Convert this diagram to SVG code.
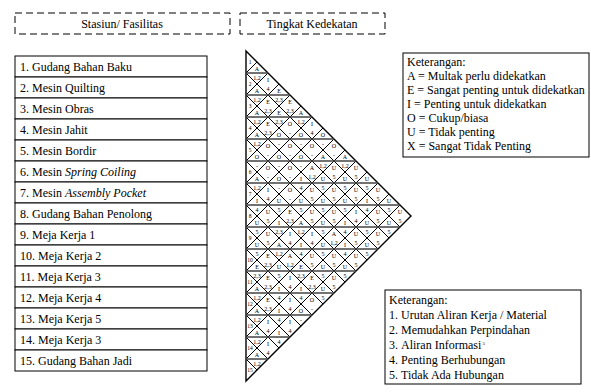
<svg xmlns="http://www.w3.org/2000/svg" width="591" height="392" viewBox="0 0 591 392">
<style>
  text { font-family: "Liberation Serif", "Times New Roman", serif; fill: #000; }
  .hdr rect { fill: none; stroke: #000; stroke-width: 1; stroke-dasharray: 7 4; }
  .hdr text { font-size: 12px; text-anchor: middle; }
  .row rect { fill: #fff; stroke: #000; stroke-width: 1; }
  .row text { font-size: 12px; }
  .leg rect { fill: #fff; stroke: #000; stroke-width: 1; }
  .leg text { font-size: 12px; }
  .grid { fill: none; stroke: #000; stroke-width: 1; }
  .mid { stroke: #444; stroke-width: 1.3; }
  .cell text { font-size: 6px; text-anchor: middle; }
  .lbl text { font-size: 5.5px; text-anchor: middle; }
</style>

<!-- column headers -->
<g id="hdr-stasiun" class="hdr"><rect x="15" y="13" width="215" height="21"/><text x="122" y="28">Stasiun/ Fasilitas</text></g>
<g id="hdr-kedekatan" class="hdr"><rect x="240" y="13" width="145" height="21"/><text x="312" y="28">Tingkat Kedekatan</text></g>

<!-- station list -->
<g id="st1" class="row"><rect x="15" y="56" width="192" height="21"/><text x="20" y="70.5">1. Gudang Bahan Baku</text></g>
<g id="st2" class="row"><rect x="15" y="77" width="192" height="21"/><text x="20" y="91.5">2. Mesin Quilting</text></g>
<g id="st3" class="row"><rect x="15" y="98" width="192" height="21"/><text x="20" y="112.5">3. Mesin Obras</text></g>
<g id="st4" class="row"><rect x="15" y="119" width="192" height="21"/><text x="20" y="133.5">4. Mesin Jahit</text></g>
<g id="st5" class="row"><rect x="15" y="140" width="192" height="21"/><text x="20" y="154.5">5. Mesin Bordir</text></g>
<g id="st6" class="row"><rect x="15" y="161" width="192" height="21"/><text x="20" y="175.5">6. Mesin <tspan font-style="italic">Spring Coiling</tspan></text></g>
<g id="st7" class="row"><rect x="15" y="182" width="192" height="21"/><text x="20" y="196.5">7. Mesin <tspan font-style="italic">Assembly Pocket</tspan></text></g>
<g id="st8" class="row"><rect x="15" y="203" width="192" height="21"/><text x="20" y="217.5">8. Gudang Bahan Penolong</text></g>
<g id="st9" class="row"><rect x="15" y="224" width="192" height="21"/><text x="20" y="238.5">9. Meja Kerja 1</text></g>
<g id="st10" class="row"><rect x="15" y="245" width="192" height="21"/><text x="20" y="259.5">10. Meja Kerja 2</text></g>
<g id="st11" class="row"><rect x="15" y="266" width="192" height="21"/><text x="20" y="280.5">11. Meja Kerja 3</text></g>
<g id="st12" class="row"><rect x="15" y="287" width="192" height="21"/><text x="20" y="301.5">12. Meja Kerja 4</text></g>
<g id="st13" class="row"><rect x="15" y="308" width="192" height="21"/><text x="20" y="322.5">13. Meja Kerja 5</text></g>
<g id="st14" class="row"><rect x="15" y="329" width="192" height="21"/><text x="20" y="343.5">14. Meja Kerja 3</text></g>
<g id="st15" class="row"><rect x="15" y="350" width="192" height="21"/><text x="20" y="364.5">15. Gudang Bahan Jadi</text></g>

<!-- relationship chart grid -->
<g id="connectors" class="grid">
  <polygon points="246,51 411,216 246,381" stroke-width="1.4"/>
  <path d="M246,73L400,227M246,95L389,238M246,117L378,249M246,139L367,260M246,161L356,271M246,183L345,282M246,205L334,293M246,227L323,304M246,249L312,315M246,271L301,326M246,293L290,337M246,315L279,348M246,337L268,359M246,359L257,370"/>
  <path d="M246,73L257,62M246,95L268,73M246,117L279,84M246,139L290,95M246,161L301,106M246,183L312,117M246,205L323,128M246,227L334,139M246,249L345,150M246,271L356,161M246,293L367,172M246,315L378,183M246,337L389,194M246,359L400,205"/>
  <path class="mid" d="M246,73H268M246,95H290M246,117H312M246,139H334M246,161H356M246,183H378M246,205H400M246,227H400M246,249H378M246,271H356M246,293H334M246,315H312M246,337H290M246,359H268"/>
</g>

<!-- station numbers on the chart edge -->
<g id="row-labels" class="lbl">
  <text x="250" y="64">1</text><text x="250" y="86">2</text><text x="250" y="108">3</text><text x="250" y="130">4</text><text x="250" y="152">5</text>
  <text x="250" y="174">6</text><text x="250" y="196">7</text><text x="250" y="218">8</text><text x="250" y="240">9</text><text x="250" y="262">10</text>
  <text x="250" y="284">11</text><text x="250" y="306">12</text><text x="250" y="328">13</text><text x="250" y="350">14</text><text x="250" y="372">15</text>
</g>

<!-- closeness rating (top) and reason code (bottom) per pair -->
<g id="ratings" class="cell">
  <g transform="translate(257,73)"><text y="-2">A</text><text y="6.5">1,2</text></g>
  <g transform="translate(268,84)"><text y="-2">I</text><text y="6.5">4</text></g>
  <g transform="translate(279,95)"><text y="-2">E</text><text y="6.5">2,3</text></g>
  <g transform="translate(290,106)"><text y="-2">E</text><text y="6.5">2,3</text></g>
  <g transform="translate(301,117)"><text y="-2">A</text><text y="6.5">1,2</text></g>
  <g transform="translate(312,128)"><text y="-2">I</text><text y="6.5">4</text></g>
  <g transform="translate(323,139)"><text y="-2">O</text><text y="6.5">-</text></g>
  <g transform="translate(334,150)"><text y="-2">O</text><text y="6.5">-</text></g>
  <g transform="translate(345,161)"><text y="-2">A</text><text y="6.5">1,2</text></g>
  <g transform="translate(356,172)"><text y="-2">U</text><text y="6.5">5</text></g>
  <g transform="translate(367,183)"><text y="-2">U</text><text y="6.5">5</text></g>
  <g transform="translate(378,194)"><text y="-2">U</text><text y="6.5">5</text></g>
  <g transform="translate(389,205)"><text y="-2">U</text><text y="6.5">5</text></g>
  <g transform="translate(400,216)"><text y="-2">U</text><text y="6.5">5</text></g>

  <g transform="translate(257,95)"><text y="-2">A</text><text y="6.5">1,2</text></g>
  <g transform="translate(268,106)"><text y="-2">E</text><text y="6.5">2,3</text></g>
  <g transform="translate(279,117)"><text y="-2">E</text><text y="6.5">2,3</text></g>
  <g transform="translate(290,128)"><text y="-2">O</text><text y="6.5">-</text></g>
  <g transform="translate(301,139)"><text y="-2">O</text><text y="6.5">-</text></g>
  <g transform="translate(312,150)"><text y="-2">O</text><text y="6.5">-</text></g>
  <g transform="translate(323,161)"><text y="-2">A</text><text y="6.5">1,2</text></g>
  <g transform="translate(334,172)"><text y="-2">U</text><text y="6.5">5</text></g>
  <g transform="translate(345,183)"><text y="-2">U</text><text y="6.5">5</text></g>
  <g transform="translate(356,194)"><text y="-2">U</text><text y="6.5">5</text></g>
  <g transform="translate(367,205)"><text y="-2">I</text><text y="6.5">4</text></g>
  <g transform="translate(378,216)"><text y="-2">U</text><text y="6.5">5</text></g>
  <g transform="translate(389,227)"><text y="-2">U</text><text y="6.5">5</text></g>

  <g transform="translate(257,117)"><text y="-2">A</text><text y="6.5">1,2</text></g>
  <g transform="translate(268,128)"><text y="-2">E</text><text y="6.5">2,3</text></g>
  <g transform="translate(279,139)"><text y="-2">O</text><text y="6.5">-</text></g>
  <g transform="translate(290,150)"><text y="-2">O</text><text y="6.5">-</text></g>
  <g transform="translate(301,161)"><text y="-2">O</text><text y="6.5">-</text></g>
  <g transform="translate(312,172)"><text y="-2">A</text><text y="6.5">1,2</text></g>
  <g transform="translate(323,183)"><text y="-2">U</text><text y="6.5">5</text></g>
  <g transform="translate(334,194)"><text y="-2">U</text><text y="6.5">5</text></g>
  <g transform="translate(345,205)"><text y="-2">U</text><text y="6.5">5</text></g>
  <g transform="translate(356,216)"><text y="-2">I</text><text y="6.5">4</text></g>
  <g transform="translate(367,227)"><text y="-2">U</text><text y="6.5">5</text></g>
  <g transform="translate(378,238)"><text y="-2">U</text><text y="6.5">5</text></g>

  <g transform="translate(257,139)"><text y="-2">A</text><text y="6.5">1,2</text></g>
  <g transform="translate(268,150)"><text y="-2">O</text><text y="6.5">-</text></g>
  <g transform="translate(279,161)"><text y="-2">O</text><text y="6.5">-</text></g>
  <g transform="translate(290,172)"><text y="-2">O</text><text y="6.5">-</text></g>
  <g transform="translate(301,183)"><text y="-2">I</text><text y="6.5">4</text></g>
  <g transform="translate(312,194)"><text y="-2">U</text><text y="6.5">5</text></g>
  <g transform="translate(323,205)"><text y="-2">U</text><text y="6.5">5</text></g>
  <g transform="translate(334,216)"><text y="-2">U</text><text y="6.5">5</text></g>
  <g transform="translate(345,227)"><text y="-2">I</text><text y="6.5">4</text></g>
  <g transform="translate(356,238)"><text y="-2">U</text><text y="6.5">5</text></g>
  <g transform="translate(367,249)"><text y="-2">U</text><text y="6.5">5</text></g>

  <g transform="translate(257,161)"><text y="-2">O</text><text y="6.5">-</text></g>
  <g transform="translate(268,172)"><text y="-2">O</text><text y="6.5">-</text></g>
  <g transform="translate(279,183)"><text y="-2">O</text><text y="6.5">-</text></g>
  <g transform="translate(290,194)"><text y="-2">O</text><text y="6.5">-</text></g>
  <g transform="translate(301,205)"><text y="-2">U</text><text y="6.5">5</text></g>
  <g transform="translate(312,216)"><text y="-2">U</text><text y="6.5">5</text></g>
  <g transform="translate(323,227)"><text y="-2">U</text><text y="6.5">5</text></g>
  <g transform="translate(334,238)"><text y="-2">A</text><text y="6.5">1,2</text></g>
  <g transform="translate(345,249)"><text y="-2">I</text><text y="6.5">4</text></g>
  <g transform="translate(356,260)"><text y="-2">U</text><text y="6.5">5</text></g>

  <g transform="translate(257,183)"><text y="-2">A</text><text y="6.5">1,2</text></g>
  <g transform="translate(268,194)"><text y="-2">I</text><text y="6.5">4</text></g>
  <g transform="translate(279,205)"><text y="-2">U</text><text y="6.5">5</text></g>
  <g transform="translate(290,216)"><text y="-2">E</text><text y="6.5">2,3</text></g>
  <g transform="translate(301,227)"><text y="-2">A</text><text y="6.5">1,2</text></g>
  <g transform="translate(312,238)"><text y="-2">I</text><text y="6.5">4</text></g>
  <g transform="translate(323,249)"><text y="-2">U</text><text y="6.5">5</text></g>
  <g transform="translate(334,260)"><text y="-2">U</text><text y="6.5">5</text></g>
  <g transform="translate(345,271)"><text y="-2">U</text><text y="6.5">5</text></g>

  <g transform="translate(257,205)"><text y="-2">I</text><text y="6.5">4</text></g>
  <g transform="translate(268,216)"><text y="-2">U</text><text y="6.5">5</text></g>
  <g transform="translate(279,227)"><text y="-2">I</text><text y="6.5">2,3</text></g>
  <g transform="translate(290,238)"><text y="-2">I</text><text y="6.5">4</text></g>
  <g transform="translate(301,249)"><text y="-2">I</text><text y="6.5">4</text></g>
  <g transform="translate(312,260)"><text y="-2">U</text><text y="6.5">5</text></g>
  <g transform="translate(323,271)"><text y="-2">U</text><text y="6.5">5</text></g>
  <g transform="translate(334,282)"><text y="-2">U</text><text y="6.5">5</text></g>

  <g transform="translate(257,227)"><text y="-2">U</text><text y="6.5">5</text></g>
  <g transform="translate(268,238)"><text y="-2">U</text><text y="6.5">5</text></g>
  <g transform="translate(279,249)"><text y="-2">A</text><text y="6.5">1,2</text></g>
  <g transform="translate(290,260)"><text y="-2">A</text><text y="6.5">1,2</text></g>
  <g transform="translate(301,271)"><text y="-2">E</text><text y="6.5">2,3</text></g>
  <g transform="translate(312,282)"><text y="-2">E</text><text y="6.5">2,3</text></g>
  <g transform="translate(323,293)"><text y="-2">U</text><text y="6.5">5</text></g>

  <g transform="translate(257,249)"><text y="-2">U</text><text y="6.5">5</text></g>
  <g transform="translate(268,260)"><text y="-2">E</text><text y="6.5">2,3</text></g>
  <g transform="translate(279,271)"><text y="-2">U</text><text y="6.5">5</text></g>
  <g transform="translate(290,282)"><text y="-2">I</text><text y="6.5">4</text></g>
  <g transform="translate(301,293)"><text y="-2">I</text><text y="6.5">4</text></g>
  <g transform="translate(312,304)"><text y="-2">O</text><text y="6.5">-</text></g>

  <g transform="translate(257,271)"><text y="-2">E</text><text y="6.5">2,3</text></g>
  <g transform="translate(268,282)"><text y="-2">E</text><text y="6.5">2,3</text></g>
  <g transform="translate(279,293)"><text y="-2">I</text><text y="6.5">4</text></g>
  <g transform="translate(290,304)"><text y="-2">I</text><text y="6.5">4</text></g>
  <g transform="translate(301,315)"><text y="-2">O</text><text y="6.5">-</text></g>

  <g transform="translate(257,293)"><text y="-2">A</text><text y="6.5">1,2</text></g>
  <g transform="translate(268,304)"><text y="-2">E</text><text y="6.5">2,3</text></g>
  <g transform="translate(279,315)"><text y="-2">I</text><text y="6.5">4</text></g>
  <g transform="translate(290,326)"><text y="-2">I</text><text y="6.5">4</text></g>

  <g transform="translate(257,315)"><text y="-2">A</text><text y="6.5">1,2</text></g>
  <g transform="translate(268,326)"><text y="-2">I</text><text y="6.5">4</text></g>
  <g transform="translate(279,337)"><text y="-2">I</text><text y="6.5">4</text></g>

  <g transform="translate(257,337)"><text y="-2">A</text><text y="6.5">1,2</text></g>
  <g transform="translate(268,348)"><text y="-2">I</text><text y="6.5">4</text></g>

  <g transform="translate(257,359)"><text y="-2">A</text><text y="6.5">1,2</text></g>
</g>

<!-- legend: closeness codes -->
<g id="legend-codes" class="leg">
  <rect x="403" y="53" width="186" height="104"/>
  <text x="407" y="66">Keterangan:</text>
  <text x="407" y="80">A = Multak perlu didekatkan</text>
  <text x="407" y="94">E = Sangat penting untuk didekatkan</text>
  <text x="407" y="108">I = Penting untuk didekatkan</text>
  <text x="407" y="122">O = Cukup/biasa</text>
  <text x="407" y="136">U = Tidak penting</text>
  <text x="407" y="150">X = Sangat Tidak Penting</text>
</g>

<!-- legend: reason codes -->
<g id="legend-reasons" class="leg">
  <rect x="385" y="290" width="196" height="94"/>
  <text x="389" y="304">Keterangan:</text>
  <text x="389" y="319">1.</text><text x="401" y="319">Urutan Aliran Kerja / Material</text>
  <text x="389" y="334">2.</text><text x="401" y="334">Memudahkan Perpindahan</text>
  <text x="389" y="349">3.</text><text x="401" y="349">Aliran Informasi<tspan font-size="5" dy="-4"> 5</tspan></text>
  <text x="389" y="364">4.</text><text x="401" y="364">Penting Berhubungan</text>
  <text x="389" y="379">5.</text><text x="401" y="379">Tidak Ada Hubungan</text>
</g>
</svg>
